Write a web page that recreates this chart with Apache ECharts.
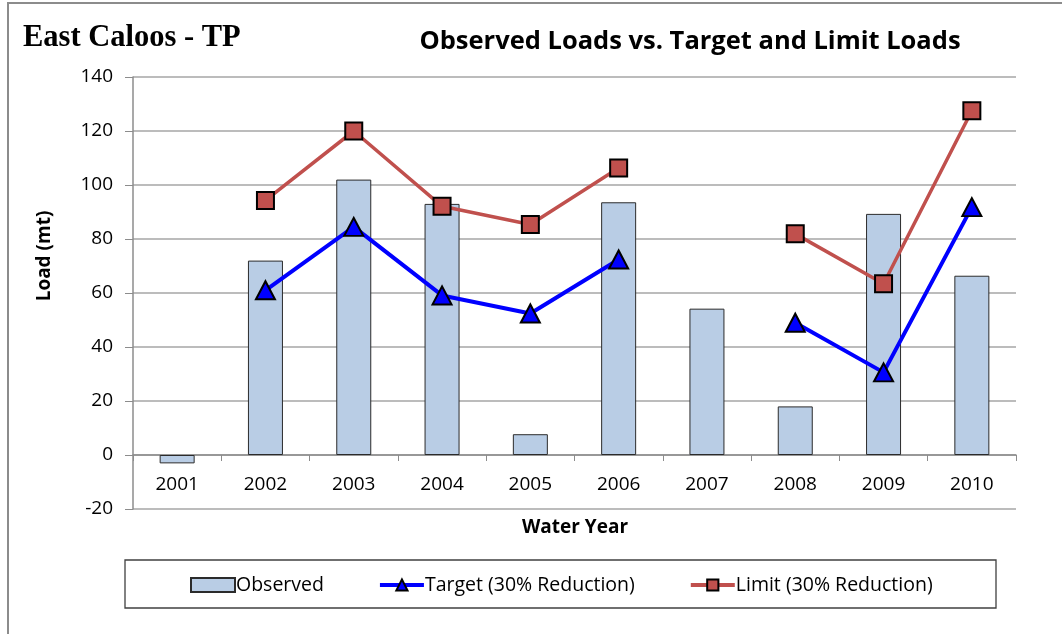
<!DOCTYPE html>
<html>
<head>
<meta charset="utf-8">
<title>East Caloos - TP</title>
<script src="https://cdn.jsdelivr.net/npm/echarts@6/dist/echarts.min.js"></script>
<style>
  html, body { margin: 0; padding: 0; background: #fff; }
  #chart { width: 1062px; height: 634px; }
</style>
</head>
<body>
<div id="chart"></div>
<script>
// Water years on the category axis
const years = ['2001', '2002', '2003', '2004', '2005', '2006', '2007', '2008', '2009', '2010'];
// Observed annual TP load (mt)
const observed = [-3.1, 72, 102, 93, 7.7, 93.6, 54.2, 18, 89.3, 66.4];
// Target load with 30% reduction (no value for 2001 and 2007)
const target = [null, 61, 84.5, 59.1, 52.4, 72.4, null, 49, 30.6, 91.8];
// Limit load with 30% reduction (no value for 2001 and 2007)
const limit = [null, 94.3, 120, 92.1, 85.4, 106.3, null, 81.9, 63.4, 127.5];
// Value axis range
const yMin = -20, yMax = 140, yStep = 20;

const FONT = '"Open Sans", "Liberation Sans", sans-serif';
const chart = echarts.init(document.getElementById('chart'), null, { renderer: 'canvas' });

chart.setOption({
  animation: false,
  backgroundColor: '#fff',
  grid: { left: 133, right: 46, top: 77, bottom: 125 },
  graphic: [
    // outer frame
    { type: 'rect', shape: { x: 8, y: 3, width: 1100, height: 700 },
      style: { fill: 'none', stroke: '#8c8c8c', lineWidth: 2 }, silent: true, z: -10 },
    // legend box
    { type: 'rect', shape: { x: 125, y: 560, width: 871, height: 48 },
      style: { fill: '#fff', stroke: '#404040', lineWidth: 1.3 }, silent: true, z: -5 },
    { type: 'text', x: 23, y: 38,
      style: { text: 'East Caloos - TP', font: 'bold 30.5px "Liberation Serif", serif', fill: '#000',
               textAlign: 'left', textVerticalAlign: 'middle' } },
    { type: 'text', x: 690, y: 42,
      style: { text: 'Observed Loads vs. Target and Limit Loads', font: 'bold 25.5px ' + FONT,
               fill: '#000', textAlign: 'center', textVerticalAlign: 'middle' } },
    { type: 'text', x: 45, y: 256, rotation: Math.PI / 2,
      style: { text: 'Load (mt)', font: 'bold 19px ' + FONT, fill: '#000',
               textAlign: 'center', textVerticalAlign: 'middle' } },
    { type: 'text', x: 575, y: 528,
      style: { text: 'Water Year', font: 'bold 19px ' + FONT, fill: '#000',
               textAlign: 'center', textVerticalAlign: 'middle' } }
  ],
  legend: {
    left: 185, top: 570,
    itemGap: 54, itemWidth: 44, itemHeight: 14,
    textStyle: { fontFamily: FONT, fontSize: 19.5, color: '#000', padding: [0, 0, 0, -4] },
    data: [
      { name: 'Observed', icon: 'rect' },
      { name: 'Target (30% Reduction)', lineStyle: { width: 4 } },
      { name: 'Limit (30% Reduction)', lineStyle: { width: 4 } }
    ]
  },
  xAxis: {
    type: 'category',
    data: years,
    offset: -54,
    axisLine: { onZero: false, lineStyle: { color: '#8c8c8c', width: 1.5 } },
    axisTick: { show: true, length: 6, lineStyle: { color: '#8c8c8c' } },
    axisLabel: { fontFamily: FONT, fontSize: 19, color: '#000', margin: 20 },
    splitLine: { show: false }
  },
  yAxis: {
    type: 'value',
    min: yMin, max: yMax, interval: yStep,
    axisLine: { show: true, lineStyle: { color: '#8c8c8c', width: 1.5 } },
    axisTick: { show: true, length: 8, lineStyle: { color: '#8c8c8c' } },
    axisLabel: { fontFamily: FONT, fontSize: 19, color: '#000', margin: 20 },
    splitLine: { show: true, lineStyle: { color: '#a6a6a6', width: 1.5 } }
  },
  series: [
    {
      name: 'Observed', type: 'bar', data: observed, barWidth: 35,
      itemStyle: { color: '#b9cde5', borderColor: '#2b2b2b', borderWidth: 1 }
    },
    {
      name: 'Target (30% Reduction)', type: 'line', data: target,
      connectNulls: false,
      symbol: 'triangle', symbolSize: [19, 18],
      lineStyle: { color: '#0000ff', width: 4 },
      itemStyle: { color: '#0000ff', borderColor: '#000', borderWidth: 2 },
      z: 4
    },
    {
      name: 'Limit (30% Reduction)', type: 'line', data: limit,
      connectNulls: false,
      symbol: 'rect', symbolSize: 17,
      lineStyle: { color: '#c0504d', width: 3.5 },
      itemStyle: { color: '#c0504d', borderColor: '#000', borderWidth: 2 },
      z: 3
    }
  ]
});
</script>
</body>
</html>
